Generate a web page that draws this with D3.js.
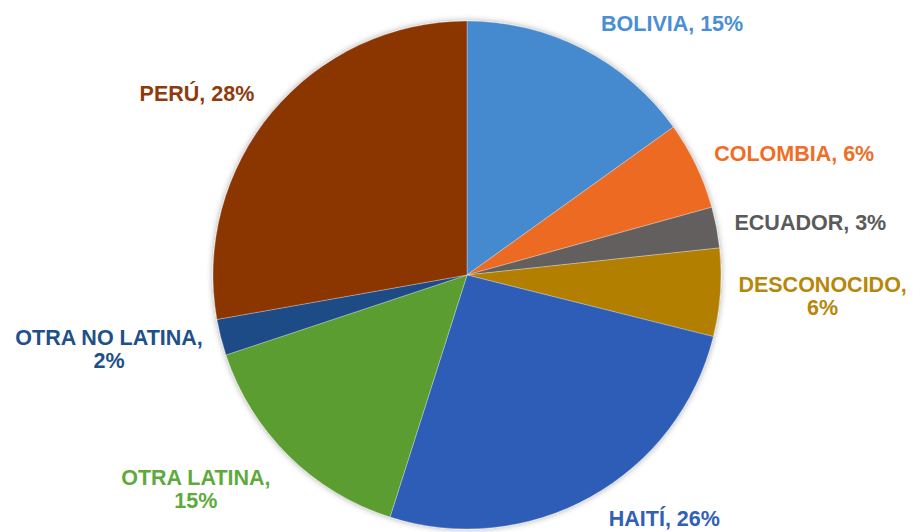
<!DOCTYPE html>
<html>
<head>
<meta charset="utf-8">
<script src="https://cdn.jsdelivr.net/npm/d3@7"></script>
<style>
  body { margin: 0; background: #fff; }
  text { font-family: "Liberation Sans", Arial, sans-serif; font-weight: bold; }
</style>
</head>
<body>
<script>
var width = 914,
    height = 532;

// data (share of total, %)
var paises = ["BOLIVIA", "COLOMBIA", "ECUADOR", "DESCONOCIDO", "HAITÍ", "OTRA LATINA", "OTRA NO LATINA", "PERÚ"];
var valores = [15.1, 5.6, 2.6, 5.6, 26.0, 15.0, 2.3, 27.8];
var colores = ["#4589cf", "#ec6a23", "#635f5f", "#b37f00", "#2f5db7", "#5b9d32", "#1e4b86", "#8b3404"];
var coloresTexto = ["#4a8fd3", "#ee6e26", "#5a5a5a", "#b8870a", "#3160b4", "#5eaa3b", "#214f88", "#8e3b0c"];

var data = paises.map(function(p, i) {
    return {pais: p, valor: valores[i]};
});

var cx = 467, cy = 275, radius = 254;

var svg = d3.select("body")
    .append("svg")
        .attr("width", width)
        .attr("height", height);

var defs = svg.append("defs");
var filtro = defs.append("filter")
    .attr("id", "sombra")
    .attr("x", "-10%").attr("y", "-10%")
    .attr("width", "120%").attr("height", "120%");
filtro.append("feDropShadow")
    .attr("dx", 0)
    .attr("dy", 0)
    .attr("stdDeviation", 3)
    .attr("flood-color", "#000")
    .attr("flood-opacity", 0.35);

var color = d3.scaleOrdinal().domain(paises).range(colores);
var colorTexto = d3.scaleOrdinal().domain(paises).range(coloresTexto);

var pie = d3.pie()
    .value(function(d) { return d.valor; })
    .sort(null);

var arc = d3.arc()
    .innerRadius(0)
    .outerRadius(radius);

var total = d3.sum(valores);
var arcs = pie(data);

var g = svg.append("g")
    .attr("transform", "translate(" + cx + "," + cy + ")");

g.append("g")
    .attr("filter", "url(#sombra)")
    .selectAll("path")
    .data(arcs)
    .enter()
    .append("path")
        .attr("d", arc)
        .style("fill", function(d) { return color(d.data.pais); })
        .attr("stroke", "rgba(255,255,255,0.5)")
        .style("stroke-width", "0.6px");

// labels: outside the end of each slice
var gap = 16, lineH = 23, maxW = 175;

var labels = g.append("g")
    .selectAll("text")
    .data(arcs)
    .enter()
    .append("text")
        .style("font-size", "21.5px")
        .style("fill", function(d) { return colorTexto(d.data.pais); })
        .attr("text-anchor", "middle");

labels.each(function(d) {
    var t = d3.select(this);
    var pct = Math.round(d.data.valor / total * 100) + "%";
    var full = d.data.pais + ", " + pct;
    t.text(full);
    var lines = [full];
    if (this.getComputedTextLength() > maxW) {
        lines = [d.data.pais + ",", pct];
    }
    t.text(null);
    lines.forEach(function(l, i) {
        t.append("tspan")
            .attr("x", 0)
            .attr("dy", i === 0 ? 0 : lineH)
            .text(l);
    });
    var w = d3.max(t.selectAll("tspan").nodes(), function(n) { return n.getComputedTextLength(); });
    var capH = 15;
    var h = capH + (lines.length - 1) * lineH;
    var a = (d.startAngle + d.endAngle) / 2;
    var ux = Math.sin(a), uy = -Math.cos(a);
    var px = ux * radius, py = uy * radius;
    var bx = px + (ux >= 0 ? 1 : -1) * (gap + 2 + w / 2);
    var k = lines.length > 1 ? 1.35 : 1.2;
    var by = py + k * uy * (h / 2 + gap);
    // first baseline so that the box is centred on by
    var base = by - h / 2 + capH;
    // keep the last line inside the picture
    var lastBase = base + (lines.length - 1) * lineH;
    if (cy + lastBase > height - 6) base -= cy + lastBase - (height - 6);
    t.attr("transform", "translate(" + bx + "," + base + ")");
});
</script>
</body>
</html>
